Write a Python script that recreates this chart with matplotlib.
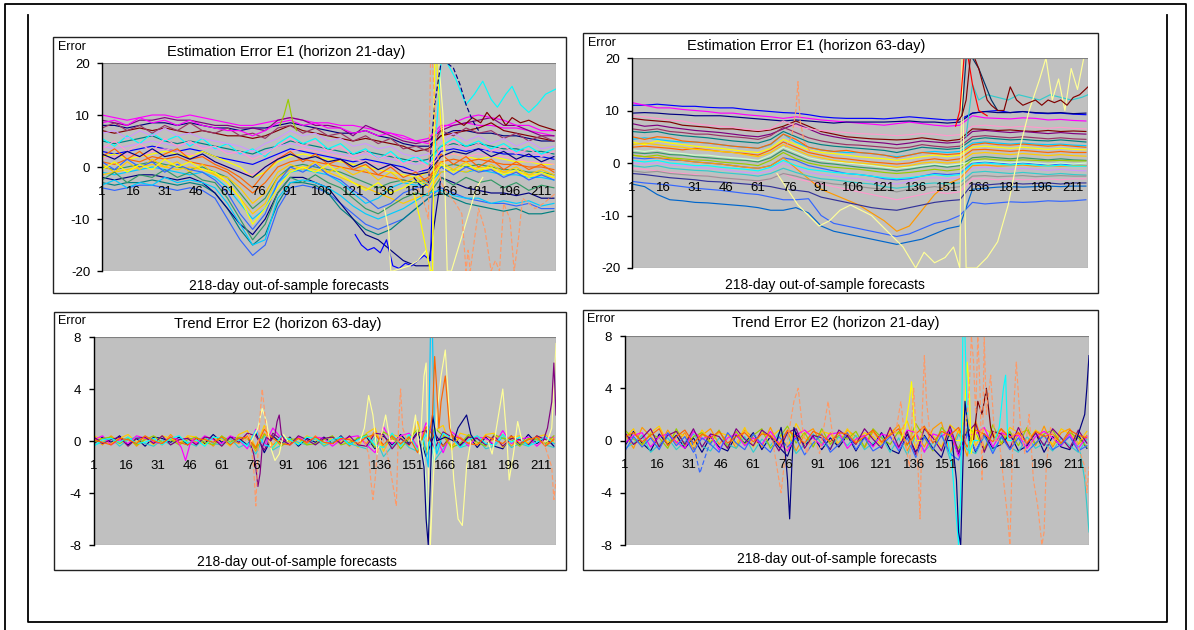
import matplotlib
matplotlib.use("Agg")
import matplotlib.pyplot as plt
from matplotlib.lines import Line2D
from matplotlib.patches import Rectangle

W, H = 1194, 630
plt.rcParams["font.family"] = ["Liberation Sans", "DejaVu Sans"]

# ---------------------------------------------------------------------------
# Data
# ---------------------------------------------------------------------------
XTICKS = [1, 16, 31, 46, 61, 76, 91, 106, 121, 136, 151, 166, 181, 196, 211]

# E1 panels: sampled every 6th forecast day
E1_DAYS = [1, 7, 13, 19, 25, 31, 37, 43, 49, 55, 61, 67, 73, 79, 85, 91, 97, 103, 109,
           115, 121, 127, 133, 139, 145, 151, 157, 163, 169, 175, 181, 187, 193, 199, 205, 211, 217]

# --- Estimation Error E1, horizon 21-day
TL_BAND = [
    [10, 9.5, 9, 9.5, 10, 10, 9.5, 10, 9.5, 9, 8.5, 8, 8, 8.5, 9, 9.5, 9, 8.5, 8.5, 8, 8, 7.5, 7, 6.5, 6, 5, 5.5, 8, 8, 8.5, 8, 8, 7.5, 7.5, 7, 6.5, 6],
    [8, 8, 7.5, 8, 8.5, 8.5, 8, 8.5, 8, 7.5, 7.5, 7, 7.5, 7.5, 8, 8.5, 8, 7.5, 7, 6.5, 6.5, 7, 6, 5.5, 4.5, 4, 4, 6, 7, 7, 6.5, 6.5, 6, 6, 5.5, 5, 5],
    [9, 8.5, 8, 9, 9, 9.5, 9, 9, 8.5, 8, 8, 7.5, 7.5, 7, 9, 9.5, 9, 8, 8, 7.5, 6, 8, 7, 6, 5, 4.5, 5, 7, 8, 8.5, 9, 9.5, 8, 8, 7, 6, 6],
    [7, 6.5, 7, 7.5, 7, 7.5, 7, 6.5, 7, 6.5, 6, 6, 5.5, 6, 7, 8, 7, 6.5, 6, 5.5, 5, 5.5, 5, 4.5, 4, 3, 3.5, 6, 6.5, 7, 7.5, 8.5, 7, 6.5, 6, 5.5, 5],
    [5, 4.5, 5, 5.5, 6, 5, 4.5, 5, 4.5, 4, 3.5, 3, 2.5, 3.5, 4, 5, 4.5, 4, 3.5, 3, 2.5, 3, 2.5, 2, 1.5, 1, 1.5, 4, 4.5, 4, 4.5, 4, 3.5, 3.5, 3, 3, 2.5],
    [3, 2.5, 3, 3.5, 4, 3.5, 3, 3.5, 3, 2, 1.5, 1, 0.5, 1.5, 2.5, 3.5, 3, 2.5, 2, 1.5, 1, 1.5, 1, 0.5, 0, -1, -0.5, 3, 3.5, 3, 3.5, 3, 2.5, 2.5, 2, 2, 1.5],
    [2, 2.5, 1.5, 2, 2.5, 3, 2.5, 2, 3, 2, 1, 0, -2, -1, 1, 2, 2.5, 2, 1.5, 1, 0.5, 0, -0.5, -1, -1.5, -2, -1, 2, 2.5, 2, 1.5, 2, 1.5, 1, 1, 0.5, 0.5],
    [1, 0.5, 1.5, 1, 2, 1.5, 2, 1, 0.5, 0, -1, -3, -5, -3, 0, 1, 1.5, 1, 0.5, 0, -0.5, -1, -1.5, -2, -2.5, -3, -2, 1, 1.5, 1, 1.5, 1, 0.5, 0.5, 0, 0, -0.5],
    [0, -0.5, 0, 0.5, 1, 0.5, 0, -0.5, 0, -1, -2, -5, -8, -6, -2, 0, 0.5, 0, -0.5, -1, -2, -3, -4, -3, -2.5, -3, -2.5, 0, 0.5, 0, 0.5, 0, -0.5, -0.5, -1, -1, -1.5],
    [-1, -1.5, -1, -0.5, 0, -0.5, -1, -1.5, -1, -2, -4, -7, -10, -8, -3, -1, -0.5, -1, -1.5, -3, -5, -7, -6, -4, -3, -3.5, -3, -1, -0.5, -1, -0.5, -1, -1.5, -1.5, -2, -2, -2.5],
    [-4, -4.5, -4, -3.5, -3.5, -4, -4.5, -4, -4.5, -6, -10, -14, -17, -15, -8, -4, -3.5, -4, -5, -7, -9, -11, -12, -11, -10, -8, -6, -4, -5, -6, -6.5, -7, -7, -7.5, -7, -8, -8],
    [-3, -3.5, -3, -3, -2.5, -3, -3.5, -3, -3.5, -5, -8, -12, -15, -13, -7, -3, -3, -3.5, -5, -8, -10, -12, -13, -12, -10, -8, -6, -5, -6, -7, -7.5, -8, -8.5, -8, -9, -9, -8.5],
    [-2, -2.5, -2, -1.5, -1.5, -2, -2.5, -2, -3, -5, -8, -11, -13, -10, -5, -2, -2, -3, -4, -7, -10, -13, -14, -16, -18, -19, -19, -2, -3, -4, -4.5, -5, -5, -5.5, -5, -6, -6],
    [4, 3.5, 4, 4.5, 5, 4.5, 4, 4.5, 4, 3.5, 3, 2.5, 2, 3, 4, 4.5, 4, 3.5, 3, 2.5, 2, 2.5, 2, 1.5, 1, 0.5, 1, 3.5, 4, 3.5, 3, 3.5, 3, 3, 2.5, 2.5, 2],
    [1.5, 2, 2.5, 2, 3, 3.5, 3, 2.5, 2, 1, 0, -1, -1.5, 0, 2, 3, 3.5, 3, 2.5, 2, 1.5, 1, 0.5, 0, -0.5, -1, 0, 2, 2.5, 2, 2.5, 2, 2, 1.5, 1, 1, 0.5],
    [-1.5, -1, -0.5, 0, 0.5, 0, -0.5, 0, -0.5, -1.5, -3, -6, -9, -7, -2, -0.5, 0, -0.5, -1, -2, -3, -4, -5, -6, -7, -6, -5, -1, -0.5, -1, 0, -0.5, -1, -1, -1.5, -1.5, -2],
    [2, 3.5, 1.5, 3, 1, 2.5, 3.5, 1.5, 2, 0.5, -0.5, -2, -4, -1, 1.5, 3, 1, 2.5, 0.5, 1.5, -0.5, 0.5, -1.5, 0, -2, -1, -3, 2.5, 0.5, 2, 0, 1.5, -0.5, 1, -0.5, 0.5, -1],
    [5.5, 4, 6, 4.5, 6.5, 5, 6, 4, 5.5, 3.5, 4.5, 2.5, 3.5, 2, 4.5, 6, 4.5, 5.5, 3.5, 4.5, 2.5, 3.5, 1.5, 3, 1, 2, 0.5, 4, 5.5, 4, 5, 3.5, 4.5, 3, 4, 2.5, 3.5],
    [7.5, 8.5, 7, 8, 6.5, 8, 7, 8.5, 7, 6.5, 7.5, 6, 6.5, 5.5, 7.5, 8, 6.5, 7.5, 6, 6.5, 5, 6, 4.5, 5.5, 3.5, 4, 3, 7, 6, 7.5, 6.5, 7, 5.5, 6.5, 5, 6, 5],
    [0.5, -1, 1, -0.5, 1.5, 0, 1, -1, 0.5, -1.5, -2, -4, -7, -5, -1, 0.5, -0.5, 1, -1, 0, -1.5, -0.5, -2.5, -1, -3, -2, -3.5, 1, -0.5, 1, -1, 0.5, -1, 0, -1.5, -0.5, -1.5],
    [-2.5, -1, -3, -1.5, -2, -0.5, -2, -1, -2.5, -3, -6, -10, -14, -11, -5, -2, -3, -1.5, -3, -4, -6, -8, -9, -7.5, -6, -5, -5.5, -2, -3.5, -2, -3, -2.5, -4, -3, -4.5, -3.5, -4],
    [3.5, 5, 3, 4.5, 3, 5.5, 4, 5, 3.5, 4, 2.5, 3, 1.5, 2.5, 4, 5.5, 4, 5, 3, 4, 2, 3, 1.5, 2.5, 0.5, 1.5, 0, 3.5, 5, 3.5, 4.5, 3, 4, 2.5, 3.5, 2, 3],
    [1, -0.5, 1.5, 0, 1, -1, 0.5, -0.5, -1, -2.5, -5, -9, -12, -9, -3, 0, -1, 0.5, -1.5, -2.5, -4.5, -6, -8, -7, -5, -4, -3.5, 0, -1.5, 0, -1, -0.5, -2, -1, -2.5, -1.5, -2.5],
    [6.5, 7, 5.5, 7, 6, 7.5, 6, 6.5, 5.5, 5, 4.5, 4, 3, 4.5, 5.5, 7, 6, 6.5, 5, 5.5, 4, 4.5, 3.5, 4, 2.5, 2, 2.5, 5, 6.5, 5, 6, 4.5, 5.5, 4, 5, 3.5, 4],
    [-0.5, 1, -1, 0.5, -0.5, 1.5, 0, 1, -0.5, -1, -3, -6, -11, -8, -4, -1, 0, -1, 0.5, -1.5, -3, -4.5, -3, -5, -4, -2.5, -4, 0.5, -1, 0.5, -0.5, 0, -1.5, -0.5, -2, -1, -2],
    [2.5, 1.5, 3, 2, 3.5, 2, 2.5, 1.5, 2.5, 1, 0, -1, -2, 0, 1.5, 2.5, 1.5, 2, 1, 1.5, 0, 1, -0.5, 0.5, -1, -1.5, -1, 2, 3, 2.5, 3.5, 2, 3, 1.5, 2.5, 1, 2],
    [8.5, 9, 8, 9.5, 8.5, 9, 8, 9, 8, 7.5, 7, 7, 6, 7, 8.5, 9, 8, 8.5, 7.5, 7.5, 6.5, 7, 6, 6.5, 5.5, 5, 4.5, 7.5, 8.5, 9.5, 10, 9.5, 9, 8, 8, 7, 7],
    [-3.5, -2.5, -4, -3, -3.5, -2, -3, -2.5, -3, -4, -7, -11, -15, -14, -6, -3, -2.5, -3, -4, -5.5, -7.5, -9, -10, -9, -8, -6.5, -5, -4.5, -5.5, -6, -6, -7, -6.5, -7, -6.5, -7.5, -7],
]
TL_COLORS = ["#FF00FF", "#000080", "#800080", "#800000", "#008080", "#0000FF", "#FFFF00", "#FF6600",
             "#339966", "#00CCFF", "#3366FF", "#008080", "#000080", "#CC99FF", "#FF99CC", "#FFCC00",
             "#FF6600", "#00FFFF", "#993366", "#FFCC00", "#339966", "#FF99CC", "#3366FF", "#CC99FF",
             "#FFFF00", "#000080", "#FF00FF", "#00CCFF"]

TL_CYAN_DAYS = [160, 163, 166, 170, 175, 179, 183, 187, 190, 194, 197, 201, 205, 209, 213, 218]
TL_CYAN = [2, 20, 20, 17, 12, 14, 16.5, 13, 11.5, 14, 15.5, 12, 10.5, 12, 14, 15]
TL_NAVY_DAYS = [150, 154, 157, 160, 163, 166, 169, 172, 175, 178, 181]
TL_NAVY = [-2, -4, -3, 12, 20, 20, 19, 16, 12, 9, 7]
TL_LYEL_DAYS = [136, 138, 139, 140, 144, 148, 152, 156, 158, 159, 160, 162, 164, 166, 168, 171, 174, 177, 180, 183]
TL_LYEL = [-8, -12, -20, -20, -19.5, -19, -18, -16, -20, -20, 20, 20, 10, -20, -20, -16, -12, -8, -4, -2]
TL_YEL_DAYS = [150, 153, 156, 158, 159, 160, 161, 163, 165]
TL_YEL = [-5, -10, -16, -20, -20, 20, 20, 8, 3]
TL_ORDASH_DAYS = [152, 155, 157, 158, 159, 161, 163, 166, 170, 173, 175, 176, 177, 179, 181, 184, 187,
                  189, 191, 193, 196, 198, 200, 202, 205, 208, 212, 215, 218]
TL_ORDASH = [-4, -7, -10, 20, 20, 4, -3, -5, -7, -9, -20, -16, -20, -14, -8, -12, -20,
             -18, -20, -7, -10, -20, -14, -6, -7, -8, -7, -6, -5]
TL_BLUE_DAYS = [122, 125, 128, 131, 134, 137, 140, 143, 146, 149, 152, 155, 158, 159]
TL_BLUE = [-13, -15, -16, -15.5, -16.5, -14, -19, -19.5, -18.5, -19, -18, -17, -18, -5]
TL_REDTOP_DAYS = [170, 174, 178, 182, 185, 188, 191, 194, 197, 201, 205, 210, 214, 218]
TL_REDTOP = [9, 8, 9.5, 8.5, 10.5, 9, 10, 8, 9.5, 8.5, 9, 8, 7.5, 7]
TL_LIME_DAYS = [86, 88, 90, 92, 94]
TL_LIME = [8, 10, 13, 9, 7]

# --- Estimation Error E1, horizon 63-day
TR_BAND = [
    [11, 11, 11.2, 11, 10.8, 10.8, 10.6, 10.5, 10.5, 10.2, 10, 9.8, 9.6, 9.5, 9.2, 8.8, 8.6, 8.5, 8.5, 8.5, 8.4, 8.6, 8.8, 8.6, 8.4, 8.2, 8.3, 9.5, 9.8, 10, 9.6, 9.8, 9.5, 9.4, 9.5, 9.3, 9.2],
    [11.5, 11, 10.5, 10.5, 10.2, 10, 9.8, 9.5, 9.5, 9.2, 9, 8.8, 8.5, 8.8, 8.5, 8.2, 8, 7.8, 7.6, 7.4, 7.2, 7.5, 7.8, 7.5, 7.2, 7, 7.2, 9, 8.6, 8.5, 8.4, 8.6, 8.5, 8.2, 8.3, 8.1, 8],
    [9.5, 9.6, 9.5, 9.3, 9.2, 9, 9, 9, 8.8, 8.6, 8.4, 8.2, 8, 8.2, 8, 7.8, 7.6, 7.8, 7.8, 7.8, 7.8, 7.9, 8, 7.8, 7.8, 7.6, 7.8, 9.5, 9.8, 9.6, 9.6, 9.8, 9.6, 9.5, 9.6, 9.4, 9.5],
    [8.5, 8.2, 8, 7.8, 7.2, 7, 6.8, 6.5, 6.5, 6.2, 6, 6.3, 7, 8, 7, 6, 5.5, 5, 4.8, 4.6, 4.5, 4.4, 4.5, 4.8, 4.5, 4.2, 4.5, 6.5, 6.4, 6.2, 6.3, 6.1, 6, 6.2, 6, 6.1, 6],
    [7.5, 7, 7.2, 6.8, 6.5, 6.2, 6, 5.8, 5.5, 5.2, 5, 5.5, 6.5, 7.5, 6.5, 5.5, 5, 4.6, 4.2, 4, 3.8, 3.5, 3.8, 4.2, 4, 3.8, 4, 6, 6.2, 6, 5.8, 6, 5.8, 5.6, 5.8, 5.6, 5.5],
    [6, 5.8, 6, 5.5, 5.2, 5, 4.8, 4.5, 4.2, 4, 3.8, 4.5, 6, 5, 4, 3.5, 3.2, 3, 2.8, 2.6, 2.4, 2, 2.5, 3, 2.8, 2.6, 2.8, 4.5, 4.8, 4.6, 4.4, 4.5, 4.3, 4.2, 4.4, 4.2, 4],
    [4.5, 4.8, 4.5, 4.2, 4, 4, 3.8, 3.5, 3.2, 3, 2.8, 3.5, 5.5, 4, 3, 2.5, 2.2, 2, 2, 1.8, 1.5, 1.2, 1.5, 2, 2.2, 2, 2.2, 3.8, 4, 3.8, 3.6, 3.8, 3.6, 3.5, 3.6, 3.4, 3.3],
    [4, 3.5, 4.2, 3.8, 3.5, 3.2, 3, 2.8, 2.5, 2.2, 2, 2.8, 4.5, 3.5, 2.5, 2, 1.8, 1.5, 1.2, 1, 0.8, 0.5, 0.8, 1.2, 1.5, 1.2, 1.5, 3, 3.2, 3, 2.8, 3, 2.8, 2.6, 2.8, 2.6, 2.5],
    [3, 3.2, 3, 2.8, 2.5, 2.8, 2.5, 2.2, 2, 1.8, 1.5, 2.5, 4, 3, 2, 1.5, 1, 0.8, 0.5, 0.2, 0, -0.2, 0, 0.5, 0.8, 0.5, 0.8, 2.5, 2.6, 2.4, 2.2, 2.4, 2.2, 2, 2.2, 2, 2],
    [2, 1.8, 2, 1.6, 1.5, 1.2, 1, 0.8, 0.6, 0.5, 0.2, 1, 2.5, 1.5, 0.5, 0, -0.2, -0.5, -0.8, -1, -1.2, -1.5, -1.2, -0.8, -0.5, -0.8, -0.5, 1, 1.2, 1, 0.8, 1, 0.8, 0.6, 0.8, 0.6, 0.5],
    [1, 0.8, 1, 0.6, 0.5, 0.2, 0, -0.2, -0.5, -0.8, -1, -0.5, 1, 0.5, -0.5, -1, -1.5, -2, -2.2, -2.5, -3, -3.2, -3, -2.5, -2, -2.2, -2, 0, 0.2, 0, -0.2, 0, -0.2, -0.4, -0.2, -0.4, -0.5],
    [0, -0.2, 0, -0.4, -0.5, -0.8, -1, -1.2, -1.5, -1.8, -2, -1.5, 0, -1, -1.8, -2.2, -2.5, -2.8, -3, -3.5, -3.8, -4, -3.5, -3, -2.8, -3, -2.8, -1, -0.8, -1, -1.2, -1, -1.2, -1.4, -1.2, -1.4, -1.5],
    [-1, -1.2, -1.5, -1.8, -2, -2.2, -2.5, -2.8, -3, -3.2, -3.5, -3, -2, -3, -3.5, -4, -4.5, -5, -5.5, -6, -6.5, -7, -6.5, -6, -5.5, -5.8, -5.5, -3, -3, -3.2, -3, -3.2, -3.1, -3, -3.2, -3, -3],
    [-3.5, -3.8, -4, -4.2, -4.5, -4.8, -5, -5.2, -5.5, -5.8, -6, -6.5, -7, -7, -6.8, -10, -11.5, -12, -12.5, -13, -13.5, -14, -13.5, -12.5, -11.5, -11, -10, -7.5, -7.8, -7.6, -7.4, -7.5, -7.4, -7.2, -7.3, -7.2, -7],
    [-4, -4.5, -6, -7, -7.2, -7.5, -7.6, -7.8, -8, -8.2, -8.5, -9, -9, -8.5, -9.5, -12, -13, -13.5, -14, -14.5, -15, -15.5, -15, -14.5, -13.5, -12.5, -12, -5, -4.8, -4.6, -4.5, -4.6, -4.5, -4.4, -4.5, -4.4, -4.4],
    [1.5, 1.2, 1, 0.8, 0.5, 0.2, 0, -0.2, -0.5, -0.8, -1, -0.5, 1, -1, -3, -5, -6, -7, -8, -9.5, -11, -13, -12, -9, -6, -4, -3, -0.5, -0.4, -0.6, -0.5, -0.4, -0.6, -0.5, -0.6, -0.5, -0.5],
    [5, 4.5, 5, 4.8, 4.2, 4, 3.8, 3.5, 3.2, 3, 2.8, 3.6, 5.5, 4.5, 3, 2.5, 2.2, 2.4, 2, 1.8, 1.5, 1, 1.5, 2, 1.8, 1.6, 1.8, 3.5, 3.8, 3.5, 3.4, 3.6, 3.4, 3.2, 3.4, 3.2, 3],
    [2.5, 2.2, 2.5, 2, 1.8, 1.5, 1.5, 1.2, 1, 0.8, 0.5, 1.5, 3, 2, 1, 0.5, 0.2, 0, -0.2, -0.5, -0.8, -1, -0.8, -0.5, -0.2, -0.5, -0.2, 0.2, 0.4, 0.2, 0, 0.2, 0, -0.2, 0, -0.2, 0],
    [6.5, 6.2, 6.5, 6, 5.8, 5.5, 5.5, 5.2, 5, 4.8, 4.5, 5.2, 6.8, 5.8, 4.8, 4.2, 3.8, 3.5, 3.4, 3.2, 3, 2.8, 3, 3.5, 3.2, 3, 3.2, 5, 5.2, 5, 4.8, 5, 4.8, 4.6, 4.8, 4.6, 4.5],
    [3.5, 3.8, 3.5, 3.2, 3, 2.6, 2.4, 2.2, 2, 1.6, 1.2, 2, 3.5, 2.5, 1.5, 1, 0.5, 0.2, 0, -0.2, -0.5, -0.8, -0.5, 0, 0.2, 0, 0.2, 1.8, 2, 1.8, 1.6, 1.8, 1.6, 1.4, 1.6, 1.4, 1.3],
    [-0.5, -0.8, -0.5, -1, -1.2, -1.4, -1.5, -1.8, -2, -2.2, -2.5, -2, -1, -1.8, -2.5, -3, -3.2, -3.5, -3.8, -4, -4.5, -4.8, -4.5, -4, -3.8, -4, -3.8, -1.8, -1.6, -1.8, -2, -1.8, -2, -2.2, -2, -2.2, -2.3],
    [-2, -2.2, -2.5, -2.8, -3, -3.2, -3.5, -3.6, -3.8, -4, -4.2, -4.5, -5, -5.2, -5.5, -6.5, -7, -7.5, -8, -8.5, -8.8, -9, -8.5, -8, -7.5, -7.2, -7, -4, -4.2, -4, -3.8, -4, -3.9, -3.8, -4, -3.8, -3.8],
    [9, 8.8, 8.5, 8.2, 8, 7.5, 7.2, 7, 6.8, 6.5, 6.2, 6.5, 8, 7, 6.5, 6.2, 6, 5.8, 5.6, 5.5, 5.4, 5.2, 5.4, 5.6, 5.5, 5.2, 5.4, 7, 7.2, 7, 6.8, 7, 6.8, 6.6, 6.8, 6.6, 6.5],
    [1.5, 1.2, 1.5, 1, 0.8, 0.6, 0.5, 0.2, 0, -0.2, -0.5, 0.5, 2, 0.8, 0, -0.5, -0.8, -1, -1.2, -1.5, -1.8, -2, -1.8, -1.5, -1.2, -1.5, -1.2, 0.6, 0.8, 0.6, 0.5, 0.6, 0.5, 0.4, 0.5, 0.4, 0.4],
    [-1.5, -1.8, -1.6, -2, -2.2, -2.4, -2.5, -2.8, -3, -3.2, -3.4, -3, -2, -2.5, -3.2, -3.6, -4, -4.2, -4.5, -4.8, -5, -5.5, -5, -4.8, -4.5, -4.8, -4.5, -2.5, -2.4, -2.6, -2.5, -2.4, -2.6, -2.5, -2.4, -2.5, -2.5],
    [0.5, 0.2, 0.5, 0, -0.2, -0.5, -0.5, -0.8, -1, -1.2, -1.5, -0.8, 0.5, -0.5, -1.2, -1.5, -1.8, -2, -2.2, -2.5, -2.8, -3, -2.8, -2.5, -2.2, -2.5, -2.2, -0.2, 0, -0.2, -0.4, -0.2, -0.4, -0.6, -0.4, -0.6, -0.6],
]
TR_COLORS = ["#0000FF", "#FF00FF", "#000080", "#800000", "#800080", "#008080", "#00CCFF", "#FFFF00",
             "#FF6600", "#339966", "#3366FF", "#CC99FF", "#FF99CC", "#3366FF", "#0066CC", "#FF9900",
             "#FF6600", "#CCFFCC", "#993366", "#FFCC00", "#33CCCC", "#333399", "#FF99CC", "#99CC00",
             "#969696", "#00FFFF"]

TR_ORDASH_DAYS = [74, 77, 79, 80, 81, 83, 86]
TR_ORDASH = [3, 5, 10, 15.5, 8, 4, 2]
TR_LYEL_DAYS = [70, 75, 80, 85, 90, 95, 100, 105, 110, 115, 120, 125, 130, 133, 136, 140, 145, 150, 154,
                157, 158, 160, 162, 165, 170, 175, 180, 185, 190, 195, 198, 201, 204, 207, 210, 213, 216, 218]
TR_LYEL = [-2, -5, -8, -10, -12, -11, -9, -8, -9, -10, -12, -14, -16, -18, -20, -17, -19, -18, -16,
           -20, 20, -20, -20, -20, -18, -15, -8, 2, 10, 16, 20, 12, 16, 10, 18, 14, 20, 20]
TR_DKRED_DAYS = [156, 158, 160, 162, 164, 166, 168, 170, 172, 175, 178, 181, 184, 187, 190, 193, 196,
                 199, 202, 205, 208, 211, 214, 218]
TR_DKRED = [8, 9, 12, 20, 20, 18, 15, 12, 11, 10, 10, 14.5, 12, 11, 11.5, 12, 11, 12, 11.5, 12, 11, 12.5, 13, 14.5]
TR_CYAN_DAYS = [160, 163, 166, 170, 175, 180, 185, 190, 195, 200, 205, 210, 215, 218]
TR_CYAN = [5, 15, 12, 13, 12.5, 12, 13, 12.5, 12, 13, 12.5, 12, 12.5, 13]
TR_NAVY_DAYS = [158, 160, 163, 166, 169, 172, 175]
TR_NAVY = [9, 20, 20, 18, 15, 12, 10]
TR_RED_DAYS = [155, 157, 159, 161, 163, 166, 170]
TR_RED = [7, 10, 20, 20, 15, 10, 9]

# E2 panels: sampled every 4th forecast day
E2_DAYS = [1, 5, 9, 13, 17, 21, 25, 29, 33, 37, 41, 45, 49, 53, 57, 61, 65, 69, 73, 77, 81, 85, 89,
           93, 97, 101, 105, 109, 113, 117, 121, 125, 129, 133, 137, 141, 145, 149, 153, 157, 161,
           165, 169, 173, 177, 181, 185, 189, 193, 197, 201, 205, 209, 213, 217]

# --- Trend Error E2, horizon 63-day
BL_NOISE = [
    [0.2, -0.3, 0.4, -0.1, 0.3, -0.4, 0.2, 0.1, -0.3, 0.5, -0.2, 0.3, -0.1, 0.2, -0.4, 0.3, 0.1, -0.2, 0.4, -0.8,
     0.6, -0.3, 0.2, -0.1, 0.3, -0.2, 0.4, -0.3, 0.1, 0.2, -0.4, 0.3, -0.2, 0.8, -0.5, 0.2, -0.3, 0.4, -0.6, 1.0,
     -0.8, 0.5, -0.4, 0.3, -0.2, 0.4, -0.3, 0.2, 0.5, -0.4, 0.3, -0.2, 0.4, -0.3, 0.2],
    [-0.2, 0.3, -0.1, 0.4, -0.3, 0.2, -0.4, 0.3, 0.2, -0.1, 0.3, -0.3, 0.2, -0.2, 0.5, -0.1, 0.3, 0.2, -0.3, 0.6,
     -0.9, 0.4, -0.2, 0.3, -0.4, 0.2, -0.1, 0.3, -0.2, 0.4, -0.3, 0.2, 0.3, -0.6, 0.4, -0.3, 0.5, -0.2, 0.7, -1.2,
     0.6, -0.4, 0.5, -0.3, 0.4, -0.5, 0.3, -0.4, -0.6, 0.4, -0.3, 0.5, -0.2, 0.3, -0.4],
    [0.4, 0.1, -0.2, 0.2, 0.5, -0.1, 0.3, -0.3, 0.4, 0.2, -0.2, 0.4, 0.3, -0.3, 0.2, 0.1, -0.4, 0.5, 0.8, -0.5,
     1.2, -0.6, 0.3, 0.2, -0.2, 0.4, 0.1, -0.3, 0.3, -0.1, 0.2, -0.5, 0.6, 1.0, -0.8, 0.5, 0.3, -0.4, 1.5, -0.9,
     0.8, 1.2, -0.7, 0.6, 0.4, -0.3, 0.5, 0.6, -0.5, 0.3, 0.4, -0.2, 0.3, 0.5, -0.1],
    [-0.3, -0.1, 0.2, -0.4, 0.1, 0.3, -0.2, -0.4, 0.1, -0.3, 0.2, -0.1, -0.4, 0.3, -0.2, -0.3, 0.2, -0.5, -0.2, -1.0,
     0.4, -0.7, -0.3, 0.2, -0.1, -0.3, 0.2, -0.4, -0.1, 0.3, -0.2, -0.4, -0.6, 0.3, -1.2, -0.4, 0.2, -0.5, -0.8, 0.9,
     -1.5, -0.6, 0.4, -0.5, -0.3, 0.2, -0.6, -0.4, 0.3, -0.5, -0.2, -0.4, 0.2, -0.3, -0.5],
    [0.1, 0.4, -0.3, 0.1, -0.2, 0.4, 0.2, -0.1, -0.2, 0.3, 0.1, 0.2, -0.2, 0.4, 0.1, -0.2, 0.4, 0.1, -0.6, 0.9,
     -0.4, 1.0, 0.2, -0.3, 0.3, -0.1, 0.3, 0.2, -0.4, 0.1, 0.3, 0.4, -0.3, -0.9, 1.1, -0.2, 0.4, 0.6, -0.5, 1.4,
     0.5, -0.9, 0.7, 0.2, -0.4, 0.3, 0.2, -0.3, 0.8, -0.2, 0.1, 0.3, -0.4, 0.2, 0.3],
    [-0.1, 0.2, 0.3, -0.2, 0.2, -0.3, 0.1, 0.4, -0.1, 0.1, -0.3, 0.1, 0.3, -0.1, -0.3, 0.4, -0.1, 0.3, 0.2, -0.6,
     0.5, 0.3, -0.4, 0.1, 0.2, -0.3, -0.2, 0.1, 0.4, -0.3, -0.1, 0.2, 0.5, -0.5, 0.7, 0.3, -0.6, 0.2, 0.9, -0.7,
     1.0, 0.4, -0.5, -0.2, 0.5, -0.1, -0.4, 0.5, 0.2, 0.1, -0.4, 0.2, 0.1, -0.2, 0.4],
    [0.3, -0.2, 0.1, 0.3, -0.4, 0.2, 0.3, -0.2, 0.4, -0.3, 0.1, 0.2, -0.3, 0.3, 0.2, -0.4, 0.3, -0.1, 0.6, 0.4,
     -0.7, 0.6, 0.1, -0.3, 0.4, 0.1, -0.3, 0.2, 0.3, -0.2, 0.4, -0.3, -0.4, 0.6, 0.5, -0.6, 0.2, -0.3, 0.6, 0.8,
     -0.6, 0.7, 0.3, -0.4, 0.3, 0.2, -0.3, 0.4, -0.4, 0.2, 0.1, -0.3, 0.4, 0.1, -0.2],
    [-0.4, 0.1, 0.2, -0.1, 0.3, -0.2, -0.1, 0.2, -0.3, 0.2, 0.4, -0.2, 0.1, -0.4, 0.3, 0.2, -0.2, 0.1, -0.4, 0.8,
     -0.3, -0.5, 0.4, 0.1, -0.3, 0.3, 0.2, -0.2, 0.1, 0.3, -0.3, 0.1, 0.4, -0.3, -0.5, 0.6, -0.4, 0.5, -0.7, 0.5,
     -0.9, 0.6, 0.2, -0.5, 0.1, 0.4, -0.2, -0.3, 0.5, -0.1, 0.3, -0.4, -0.1, 0.3, -0.2],
    [0.1, -0.1, -0.3, 0.2, 0.1, -0.2, 0.4, 0, -0.2, 0.3, -0.1, -0.3, 0.2, 0.1, -0.1, 0.3, -0.3, 0.2, 0.3, -0.5,
     0.9, 0.2, -0.2, -0.3, 0.2, -0.1, 0.3, -0.1, -0.2, 0.2, 0.1, -0.2, 0.3, 0.5, -0.3, 0.4, -0.2, 0.3, -0.9, 1.1,
     0.3, -0.4, 0.4, 0.2, -0.2, -0.3, 0.4, 0.1, -0.2, 0.4, -0.2, 0.1, 0.3, -0.4, 0.1],
]
BL_COLORS = ["#FF9900", "#000080", "#FFCC00", "#33CCCC", "#FF00FF", "#99CC00", "#800080", "#00FFFF", "#FF6600"]

BL_MAG_DAYS = [40, 42, 44, 46, 48]
BL_MAG = [0, -0.5, -1.5, -0.3, 0.2]
BL_OR1_DAYS = [72, 74, 76, 77, 78, 79, 80, 81, 82, 84, 86]
BL_OR1 = [0, 0.5, -2, -5, -1, 2, 4, 2.5, 0.5, -0.5, 0]
BL_PUR_DAYS = [74, 76, 77, 78, 79, 80, 82, 84, 86, 87, 88, 89, 91]
BL_PUR = [0, -1, -2, -3.5, -2.5, -0.5, 0.3, 0, 0.5, 1.5, 2, 0.5, 0]
BL_LY1_DAYS = [75, 78, 80, 82, 84, 86, 88, 90, 92]
BL_LY1 = [0, 1, 2.5, 1.5, -0.5, -1.5, -1, 0.5, 0]
BL_LY2_DAYS = [126, 128, 130, 132, 134, 136, 138, 140, 142]
BL_LY2 = [0, 1, 3.5, 2, -1, 0.5, 2, 0, 0]
BL_OR2_DAYS = [128, 130, 131, 132, 133, 134, 136, 138, 140, 142, 143, 144, 145, 146, 148]
BL_OR2 = [0, -1, -3, -4.5, -3, -1, 0.5, -0.5, -2, -4, -5, 1, 4, 1, 0]
BL_LY3_DAYS = [150, 152, 154, 156, 157, 158, 159, 160, 162, 164, 166, 168, 170, 172, 174, 176, 178]
BL_LY3 = [0, 2, -1, 5, 6, -2, -8, -4, 2, 5, 7, 2, -3, -6, -6.5, -2, 0]
BL_CYAN_DAYS = [156, 158, 159, 160, 161, 162, 164]
BL_CYAN = [0, -2, 8, 8, 0, -1, 0]
BL_NAVY_DAYS = [154, 156, 157, 158, 159, 160, 162, 166, 170, 172, 174, 176, 178, 180]
BL_NAVY = [0, -2, -6, -8, -3, 2, 0, 0.3, 0, 1, 1.5, 2, 0.5, 0]
BL_OR3_DAYS = [158, 160, 161, 162, 163, 164, 166, 168, 170]
BL_OR3 = [0, 2, 6.5, 4, 1, 3, 5, 1, 0]
BL_GREEN_DAYS = [155, 157, 158, 159, 161, 163]
BL_GREEN = [0, -3, -7, -3, 0, 0]
BL_LY4_DAYS = [186, 188, 190, 192, 193, 195, 196, 198, 200, 202]
BL_LY4 = [0, -1, 1, 3, 4, 0, -3, -1, 1.5, 0]
BL_END_DAYS = [212, 214, 216, 217, 218]
BL_END_PUR = [0, 1, 3, 6, 2]
BL_END_OR = [0, -1, -2, -4.5, -3]
BL_END_LY = [0, 0, 1, 4, 7.5]

# --- Trend Error E2, horizon 21-day
BR_NOISE = [
    [0.5, -0.6, 1.0, 0.3, -0.4, 0.8, -0.2, 0.6, -0.7, 0.4, 0.9, -0.3, 0.5, -0.6, 0.8, 0.2, -0.5, 1.0, -0.4, 0.7,
     -0.8, 0.5, 0.9, -0.3, 0.6, -0.5, 0.8, 0.3, -0.6, 0.7, -0.2, 0.5, 1.2, -0.8, 0.6, -0.5, 0.9, 1.4, -1.0, 0.8,
     -1.2, 1.5, -0.6, 0.4, 0.9, -0.7, 0.5, 0.8, -0.4, 1.1, -0.5, 0.6, 0.9, -0.3, 0.4],
    [-0.4, 0.7, -0.2, -0.8, 0.5, -0.3, 0.4, -0.6, 0.2, -0.9, 0.3, -0.5, -0.8, 0.4, -0.2, 0.6, -0.7, 0.3, -0.5, -1.2,
     0.6, -0.4, 0.3, -0.7, 0.2, -0.5, 0.4, -0.8, 0.3, -0.4, 0.6, -0.7, -1.0, 0.5, -0.9, 0.4, -0.6, -1.3, 0.7, -1.1,
     0.8, -0.9, 0.5, -0.6, -0.3, 0.5, -0.8, -0.4, 0.6, -0.9, 0.3, -0.5, -0.7, 0.4, -0.6],
    [0.2, 0.9, -0.5, 0.6, 1.1, -0.2, 0.7, 0.3, -0.4, 0.8, -0.1, 0.6, 0.4, -0.3, 1.0, -0.5, 0.6, 0.2, 0.8, -0.6,
     1.3, 0.2, -0.4, 0.7, 0.5, -0.2, 0.9, -0.1, 0.6, 0.3, -0.4, 0.8, 0.5, 1.5, -0.6, 1.0, 0.4, -0.5, 1.2, 0.6,
     1.8, -0.4, 0.9, 0.5, -0.3, 1.0, 0.6, -0.2, 0.8, 0.4, -0.3, 0.9, 0.5, -0.2, 0.7],
    [-0.6, -0.2, 0.4, -0.9, -0.3, 0.2, -0.7, -0.1, 0.5, -0.4, -0.8, 0.2, -0.3, -0.6, 0.3, -0.9, 0.1, -0.4, 0.6, 0.4,
     -1.0, -0.3, 0.5, -0.2, -0.6, 0.3, -0.4, 0.4, -0.7, -0.2, 0.3, -0.9, 0.2, -1.1, 0.4, -0.8, -0.2, 0.6, -1.4, 0.5,
     -0.7, -1.0, 0.3, -0.8, 0.2, -0.5, -0.9, 0.3, -0.6, -0.2, -0.8, 0.2, -0.4, -0.9, 0.1],
    [0.8, 0.1, -0.3, 0.5, 0.2, -0.6, 0.9, -0.4, 0.3, 0.6, -0.2, 0.8, -0.5, 0.7, -0.3, 0.4, 0.9, -0.6, 0.2, 1.1,
     -0.2, 0.6, -0.5, 0.9, -0.3, 0.4, 0.1, 0.7, -0.5, 0.9, 0.2, -0.3, 0.7, -0.4, 1.3, 0.2, -0.8, 1.0, 0.3, -0.6,
     0.9, 0.6, -0.8, 1.2, -0.2, 0.7, -0.4, 1.0, -0.3, 0.5, 0.8, -0.3, 0.6, 0.2, -0.5],
    [-0.2, 0.4, 0.6, -0.5, 0.3, 0.5, -0.1, -0.6, 0.7, 0.1, 0.4, -0.7, 0.2, 0.5, -0.4, 0.2, -0.3, 0.7, -0.2, -0.8,
     0.4, 0.8, 0.2, -0.4, 0.5, 0.6, -0.6, 0.1, 0.4, -0.5, 0.5, 0.3, -0.6, 0.8, 0.6, -0.9, 0.5, 0.3, 0.8, -1.2,
     0.4, 0.5, 1.0, -0.5, 0.6, 0.3, 0.4, -0.6, 0.3, 0.7, 0.2, -0.4, 0.5, -0.6, 0.3],
    [0.6, -0.3, 0.2, 0.9, -0.5, 0.4, 0.7, -0.3, 0.9, -0.5, 0.5, 0.3, -0.6, 0.9, 0.1, -0.4, 0.8, 0.3, -0.8, 0.6,
     0.9, -0.6, 0.4, 0.2, -0.7, 0.8, 0.3, -0.3, 0.9, 0.1, -0.6, 1.0, -0.5, 0.7, -1.1, 0.9, 0.2, -0.8, 1.1, -0.9,
     0.6, 1.3, -0.9, 0.7, 0.5, -0.6, 1.0, -0.3, 0.6, -0.4, 0.9, 0.2, -0.6, 0.8, -0.2],
    [-0.8, 0.3, -0.5, 0.2, -0.7, 0.6, -0.4, 0.3, -0.9, 0.2, -0.3, -0.9, 0.6, -0.2, -0.7, 0.5, -0.3, -0.9, 0.3, -0.5,
     0.2, -1.1, -0.2, 0.5, -0.9, -0.3, 0.6, -0.7, 0.2, -0.8, -0.4, 0.3, -0.8, 0.2, -1.3, 0.3, -0.7, 0.4, -1.0, -1.5,
     0.5, -0.8, 0.4, -1.0, 0.3, -0.7, 0.2, -0.9, -0.2, 0.4, -0.7, -0.3, 0.3, -0.8, -0.4],
    [0.3, 0.6, -0.1, 0.4, 0.9, -0.4, 0.3, 0.8, -0.2, 0.5, 0.2, 0.7, -0.2, 0.3, 0.6, -0.1, 0.5, 0.4, -0.3, 0.8,
     0.3, -0.2, 0.7, 0.4, -0.1, 0.6, 0.5, -0.2, 0.3, 0.8, -0.1, 0.4, 0.9, -0.3, 0.5, 1.1, -0.2, 0.7, 0.4, 1.0,
     -0.5, 0.8, 0.5, -0.1, 0.9, 0.2, 0.6, -0.2, 0.7, 0.3, 0.5, -0.2, 0.8, 0.4, 0.2],
]
BR_COLORS = ["#FF9900", "#000080", "#FFCC00", "#33CCCC", "#99CC00", "#FF00FF", "#800080", "#3366FF", "#FF6600"]

BR_BLUE_DAYS = [32, 34, 36, 38, 40, 42]
BR_BLUE = [0, -1, -2.5, -1.5, -0.5, 0]
BR_NAVY1_DAYS = [72, 74, 76, 77, 78, 79, 80, 82]
BR_NAVY1 = [0, 1, -1, -3, -6, -2, 1, 0]
BR_NAVY2_DAYS = [152, 154, 156, 157, 158, 159, 160, 162]
BR_NAVY2 = [0, 0, -3, -7, -8, -2, 3, 0]
BR_OR1_DAYS = [70, 72, 74, 76, 78, 80, 82, 84, 86, 88, 90, 92, 94, 96, 98, 100]
BR_OR1 = [0, -2, -4, -1, 1, 3, 4, 1, -1, 0, 0, -1, 1, 3, 0.5, 0]
BR_OR2_DAYS = [126, 128, 130, 132, 134, 136, 138, 139, 140, 141, 142, 144, 146]
BR_OR2 = [0, 1, 3, 0, -2, 4, -2, -6, 2, 6.5, 3, 0, 0]
BR_YEL1_DAYS = [130, 132, 134, 135, 136, 137, 139]
BR_YEL1 = [0, 1, 3, 4.5, 2, 0, 0]
BR_YEL2_DAYS = [156, 158, 160, 161, 162, 163, 164, 166]
BR_YEL2 = [0, 0, 3, 6, 4, -1, 1, 0]
BR_CYAN1_DAYS = [152, 154, 156, 157, 158, 159, 160, 161, 162, 164, 166]
BR_CYAN1 = [0, -2, -6, -8, -4, 8, 8, 2, -1, 0, 0]
BR_CYAN2_DAYS = [174, 176, 178, 179, 180, 182]
BR_CYAN2 = [0, 1, 4, 5, 0, 0]
BR_OR3_DAYS = [160, 162, 163, 164, 165, 166, 167, 168, 169, 170, 172, 174, 176, 178, 180, 181, 182,
               183, 184, 186, 188, 190, 192, 194, 196, 197, 198, 200, 202]
BR_OR3 = [0, 4, 8, 6, 2, 8, 4, -3, 8, 2, 5, 0, 0, -3, -6, -8, -2,
          3, 6, 1, -1, 2, -3, -5, -8, -7, -2, 1, 0]
BR_DKRED_DAYS = [164, 166, 168, 170, 172, 174]
BR_DKRED = [0, 3, 2, 4, 1, 0]
BR_END_DAYS = [212, 214, 216, 217, 218]
BR_END_NAVY = [0, 1, 2, 4, 6.5]
BR_END_OR = [0, -1, -2, -4, -2]
BR_END_TEAL = [0, -1, -3, -5, -7]


# ---------------------------------------------------------------------------
# Layout helpers (pixel coordinates, y from top)
# ---------------------------------------------------------------------------

def fx(x):
    return x / W


def fy(y):
    return 1 - y / H


def frame_line(fig, xs, ys, lw=1.3):
    fig.add_artist(Line2D([fx(x) for x in xs], [fy(y) for y in ys], color="black", lw=lw))


def draw_panel(fig, box, area, lim, yticks, title, title_xy, xlabel_xy, error_xy,
               days, band, colors, specials, ypad):
    l, t, r, b = box
    fig.add_artist(Rectangle((fx(l), fy(b)), (r - l) / W, (b - t) / H, transform=fig.transFigure,
                             fill=False, ec="#222222", lw=1.0))
    al, at, ar, ab = area
    ax = fig.add_axes([fx(al), fy(ab), (ar - al) / W, (ab - at) / H])
    ax.set_facecolor("#C0C0C0")

    for vals, color in zip(band, colors):
        ax.plot(days[:len(vals)], vals[:len(days)], color=color, lw=0.85)
    for sdays, vals, color, dashed in specials:
        ax.plot(sdays, vals, color=color, lw=0.85, ls=(0, (4, 2)) if dashed else "-")

    ax.set_xlim(1, 218)
    ax.set_ylim(-lim, lim)
    for s in ("top", "right"):
        ax.spines[s].set_visible(False)
    ax.spines["bottom"].set_position(("data", 0))
    ax.spines["bottom"].set_visible(False)
    ax.spines["left"].set_color("black")
    ax.spines["left"].set_linewidth(1.0)
    ax.add_patch(Rectangle((0, 0), 1, 1, transform=ax.transAxes, fill=False,
                           ec="#808080", lw=0.8, zorder=2.2))

    ax.set_xticks(XTICKS)
    ax.set_xticklabels([str(v) for v in XTICKS])
    ax.tick_params(axis="x", length=0, pad=13.5, labelsize=9.5)
    ax.set_yticks(yticks)
    ax.set_yticklabels([str(v) for v in yticks])
    ax.tick_params(axis="y", direction="out", length=3.5, width=1.0, pad=ypad, labelsize=9.5)
    ax.set_axisbelow(False)

    fig.text(fx(title_xy[0]), fy(title_xy[1]), title, ha="center", va="center", fontsize=10.5)
    fig.text(fx(xlabel_xy[0]), fy(xlabel_xy[1]), "218-day out-of-sample forecasts",
             ha="center", va="center", fontsize=10)
    fig.text(fx(error_xy[0]), fy(error_xy[1]), "Error", ha="left", va="center", fontsize=9)
    return ax


fig = plt.figure(figsize=(W / 100, H / 100), dpi=100)

# outer and inner frames
frame_line(fig, [5, 5, 1186, 1186], [640, 4, 4, 640])
frame_line(fig, [28, 28, 1167, 1167], [15, 622, 622, 15])

draw_panel(fig, (53, 37, 566, 293), (102, 63, 556, 271), 20, [-20, -10, 0, 10, 20],
           "Estimation Error E1 (horizon 21-day)", (286, 52), (289, 286), (58, 47),
           E1_DAYS, TL_BAND, TL_COLORS,
           [(TL_LIME_DAYS, TL_LIME, "#99CC00", False),
            (TL_BLUE_DAYS, TL_BLUE, "#0000FF", False),
            (TL_REDTOP_DAYS, TL_REDTOP, "#800000", False),
            (TL_CYAN_DAYS, TL_CYAN, "#00FFFF", False),
            (TL_LYEL_DAYS, TL_LYEL, "#FFFF99", False),
            (TL_YEL_DAYS, TL_YEL, "#FFFF00", False),
            (TL_NAVY_DAYS, TL_NAVY, "#000080", True),
            (TL_ORDASH_DAYS, TL_ORDASH, "#FF9966", True)], 5)

draw_panel(fig, (583, 33, 1098, 293), (632, 58, 1088, 268), 20, [-20, -10, 0, 10, 20],
           "Estimation Error E1 (horizon 63-day)", (806, 46), (825, 285), (588, 43),
           E1_DAYS, TR_BAND, TR_COLORS,
           [(TR_ORDASH_DAYS, TR_ORDASH, "#FF9966", True),
            (TR_CYAN_DAYS, TR_CYAN, "#33CCCC", False),
            (TR_LYEL_DAYS, TR_LYEL, "#FFFF99", False),
            (TR_RED_DAYS, TR_RED, "#FF0000", False),
            (TR_NAVY_DAYS, TR_NAVY, "#003366", False),
            (TR_DKRED_DAYS, TR_DKRED, "#800000", False)], 5)

draw_panel(fig, (54, 312, 566, 570), (94, 337, 556, 545), 8, [-8, -4, 0, 4, 8],
           "Trend Error E2 (horizon 63-day)", (278, 324), (297, 562), (58, 321),
           E2_DAYS, BL_NOISE, BL_COLORS,
           [(BL_MAG_DAYS, BL_MAG, "#FF00FF", False),
            (BL_LY1_DAYS, BL_LY1, "#FFFF99", False),
            (BL_LY2_DAYS, BL_LY2, "#FFFF99", False),
            (BL_LY3_DAYS, BL_LY3, "#FFFF99", False),
            (BL_LY4_DAYS, BL_LY4, "#FFFF99", False),
            (BL_END_DAYS, BL_END_LY, "#FFFF99", False),
            (BL_PUR_DAYS, BL_PUR, "#800080", False),
            (BL_OR1_DAYS, BL_OR1, "#FF9966", True),
            (BL_OR2_DAYS, BL_OR2, "#FF9966", True),
            (BL_GREEN_DAYS, BL_GREEN, "#CCFFCC", False),
            (BL_CYAN_DAYS, BL_CYAN, "#00CCFF", False),
            (BL_NAVY_DAYS, BL_NAVY, "#000080", False),
            (BL_OR3_DAYS, BL_OR3, "#FF6600", False),
            (BL_END_DAYS, BL_END_PUR, "#800080", False),
            (BL_END_DAYS, BL_END_OR, "#FF9966", True)], 6)

draw_panel(fig, (583, 310, 1098, 570), (625, 336, 1089, 545), 8, [-8, -4, 0, 4, 8],
           "Trend Error E2 (horizon 21-day)", (836, 323), (837, 559), (587, 319),
           E2_DAYS, BR_NOISE, BR_COLORS,
           [(BR_BLUE_DAYS, BR_BLUE, "#3366FF", True),
            (BR_YEL1_DAYS, BR_YEL1, "#FFFF00", False),
            (BR_YEL2_DAYS, BR_YEL2, "#FFFF00", False),
            (BR_OR1_DAYS, BR_OR1, "#FF9966", True),
            (BR_OR2_DAYS, BR_OR2, "#FF9966", True),
            (BR_DKRED_DAYS, BR_DKRED, "#800000", False),
            (BR_CYAN1_DAYS, BR_CYAN1, "#00FFFF", False),
            (BR_CYAN2_DAYS, BR_CYAN2, "#00FFFF", False),
            (BR_NAVY1_DAYS, BR_NAVY1, "#000080", False),
            (BR_NAVY2_DAYS, BR_NAVY2, "#000080", False),
            (BR_OR3_DAYS, BR_OR3, "#FF9966", True),
            (BR_END_DAYS, BR_END_TEAL, "#33CCCC", False),
            (BR_END_DAYS, BR_END_NAVY, "#000080", False),
            (BR_END_DAYS, BR_END_OR, "#FF9966", True)], 6)

fig.savefig("out.png", dpi=100)
